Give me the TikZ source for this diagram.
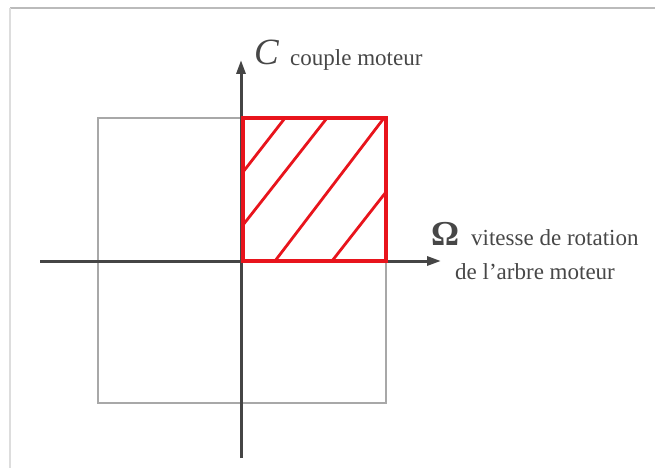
\documentclass[tikz,border=0pt]{standalone}
\usepackage{fontspec}
\setmainfont{Liberation Serif}
\usetikzlibrary{arrows.meta}
\definecolor{axisgray}{HTML}{454545}
\definecolor{boxgray}{HTML}{A8A8A8}
\definecolor{txtgray}{HTML}{474747}
\definecolor{hred}{HTML}{E8141C}
\definecolor{frameA}{HTML}{BBBBBB}
\definecolor{frameB}{HTML}{DDDDDD}
\tikzset{
  axisline/.style={draw=axisgray, line width=3pt, -{Triangle[length=14pt,width=9pt]}},
  graybox/.style={draw=boxgray, line width=2.3pt},
  redbox/.style={draw=hred, line width=3.2pt},
  hatchline/.style={draw=hred, line width=2.8pt},
  lbl/.style={text=txtgray, inner sep=0pt, font=\fontsize{23}{27}\selectfont},
  biglbl/.style={text=txtgray, inner sep=0pt, font=\fontsize{37}{40}\selectfont},
}
\begin{document}
\begin{tikzpicture}[x=1pt,y=-1pt]
\useasboundingbox (0,0) rectangle (655,468);
% frame of the picture
\draw[frameA, line width=1.5pt] (10,8) -- (655,8);
\draw[frameB, line width=1.5pt] (10,8) -- (10,468);
% coordinates
\coordinate (O) at (241,261);
\coordinate (xl) at (40,261);
\coordinate (xr) at (441,261);
\coordinate (yb) at (241,458);
\coordinate (yt) at (241,60);
\coordinate (gA) at (98,118);
\coordinate (gB) at (386,403);
\coordinate (rA) at (243,118);
\coordinate (rB) at (386,261);
% gray square
\draw[graybox] (gA) rectangle (gB);
% red quadrant with hatching
\coordinate (h1a) at (243,172); \coordinate (h1b) at (285,118);
\coordinate (h2a) at (243,225); \coordinate (h2b) at (327,118);
\coordinate (h3a) at (275,261); \coordinate (h3b) at (384,118);
\coordinate (h4a) at (332,261); \coordinate (h4b) at (386,192);
\draw[hatchline] (h1a) -- (h1b);
\draw[hatchline] (h2a) -- (h2b);
\draw[hatchline] (h3a) -- (h3b);
\draw[hatchline] (h4a) -- (h4b);
% axes
\draw[axisline] (xl) -- (xr);
\draw[axisline] (yb) -- (yt);
\draw[redbox] (rA) rectangle (rB);
% labels
\node[biglbl, anchor=base west] (C) at (254,65) {\itshape C};
\node[lbl, anchor=base west] (cm) at (290,66) {couple moteur};
\node[biglbl, anchor=base west, font=\fontsize{35}{38}\selectfont\bfseries] (Om) at (431,245) {Ω};
\node[lbl, anchor=base west] (v1) at (471,245) {vitesse de rotation};
\node[lbl, anchor=base west] (v2) at (455,279) {de l’arbre moteur};
\end{tikzpicture}
\end{document}
